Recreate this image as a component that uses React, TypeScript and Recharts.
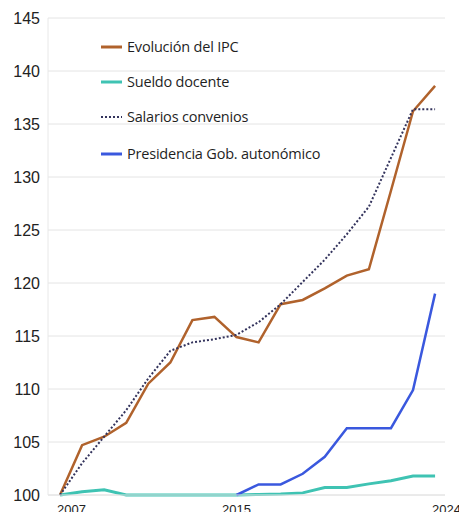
import { LineChart, Line, XAxis, YAxis, CartesianGrid } from "recharts";

const years = [2007, 2008, 2009, 2010, 2011, 2012, 2013, 2014, 2015, 2016, 2017, 2018, 2019, 2020, 2021, 2022, 2023, 2024];
const ipc = [100, 104.7, 105.5, 106.8, 110.5, 112.5, 116.5, 116.8, 114.9, 114.4, 118, 118.4, 119.5, 120.7, 121.3, 128.7, 136.2, 138.6];
const sueldoDocente = [100, 100.3, 100.5, 100, 100, 100, 100, 100, 100, 100.05, 100.1, 100.2, 100.7, 100.7, 101.05, 101.35, 101.8, 101.8];
const salariosConvenios = [100, 103, 105.5, 108, 111, 113.6, 114.4, 114.7, 115.1, 116.3, 118, 120.1, 122.2, 124.6, 127.2, 131.8, 136.4, 136.4];
const presidencia = [null, null, null, null, null, null, null, null, 100, 101, 101, 102, 103.6, 106.3, 106.3, 106.3, 109.9, 119];
const yTicks = [100, 105, 110, 115, 120, 125, 130, 135, 140, 145];
const xTicks = [2007, 2015, 2024];

// name, key, color, width, dash
const series = [
    { name: "Evolución del IPC", key: "ipc", color: "#b0622c", width: 2.5, dash: undefined },
    { name: "Sueldo docente", key: "sueldo", color: "#3fc3b3", width: 3, dash: undefined },
    { name: "Salarios convenios", key: "salarios", color: "#33335c", width: 2, dash: "2 2" },
    { name: "Presidencia Gob. autonómico", key: "presidencia", color: "#3a58de", width: 2.5, dash: undefined },
];

const data = years.map((year, i) => ({
    year,
    ipc: ipc[i],
    sueldo: sueldoDocente[i],
    salarios: salariosConvenios[i],
    presidencia: presidencia[i],
}));

const FONT = "'Open Sans', sans-serif";
const AXIS_FONT = "Arial, 'Liberation Sans', sans-serif";

function XTick({ x, y, payload }: { x?: number; y?: number; payload?: { value: number } }) {
    const v = payload?.value;
    const middle = v === 2015;
    return (
        <text
            x={middle ? x : (x ?? 0) - 3}
            y={(y ?? 0) + 11}
            textAnchor={middle ? "middle" : "start"}
            fill="#222"
            fontSize={13}
            fontFamily={AXIS_FONT}
        >
            {v}
        </text>
    );
}

function LegendList() {
    return (
        <div
            style={{
                position: "absolute",
                left: 100,
                top: 29,
                fontFamily: FONT,
                fontSize: 14.5,
                color: "#1f1f1f",
                letterSpacing: -0.2,
            }}
        >
            {series.map((s, i) => (
                <div key={s.key} style={{ display: "flex", alignItems: "center", height: 35, marginTop: i === 3 ? 2 : 0 }}>
                    <svg width={24} height={6} style={{ marginRight: 3 }}>
                        <line x1={1} y1={3} x2={22} y2={3} stroke={s.color} strokeWidth={s.dash ? 2 : 3} strokeDasharray={s.dash} />
                    </svg>
                    <span>{s.name}</span>
                </div>
            ))}
        </div>
    );
}

export default function App() {
    return (
        <div style={{ position: "absolute", left: 0, top: 0, width: 459, height: 512, background: "#fff", overflow: "hidden" }}>
            <LineChart width={459} height={512} data={data} margin={{ top: 18, right: 14, bottom: 0, left: 0 }}>
                <CartesianGrid stroke="#e4e4e4" vertical={false} />
                <XAxis
                    dataKey="year"
                    type="number"
                    domain={[2006.455, 2024.45]}
                    ticks={xTicks}
                    tick={<XTick />}
                    height={17}
                    axisLine={{ stroke: "#e4e4e4" }}
                    tickLine={false}
                    interval={0}
                />
                <YAxis
                    domain={[100, 145]}
                    ticks={yTicks}
                    width={48}
                    tick={{ fill: "#222", fontSize: 16, fontFamily: AXIS_FONT }}
                    axisLine={{ stroke: "#e8e8e8" }}
                    tickLine={false}
                    interval={0}
                />
                {series.map((s) => (
                    <Line
                        key={s.key}
                        name={s.name}
                        dataKey={s.key}
                        stroke={s.color}
                        strokeWidth={s.width}
                        strokeDasharray={s.dash}
                        dot={false}
                        type="linear"
                        connectNulls={false}
                        isAnimationActive={false}
                    />
                ))}
            </LineChart>
            <LegendList />
        </div>
    );
}
